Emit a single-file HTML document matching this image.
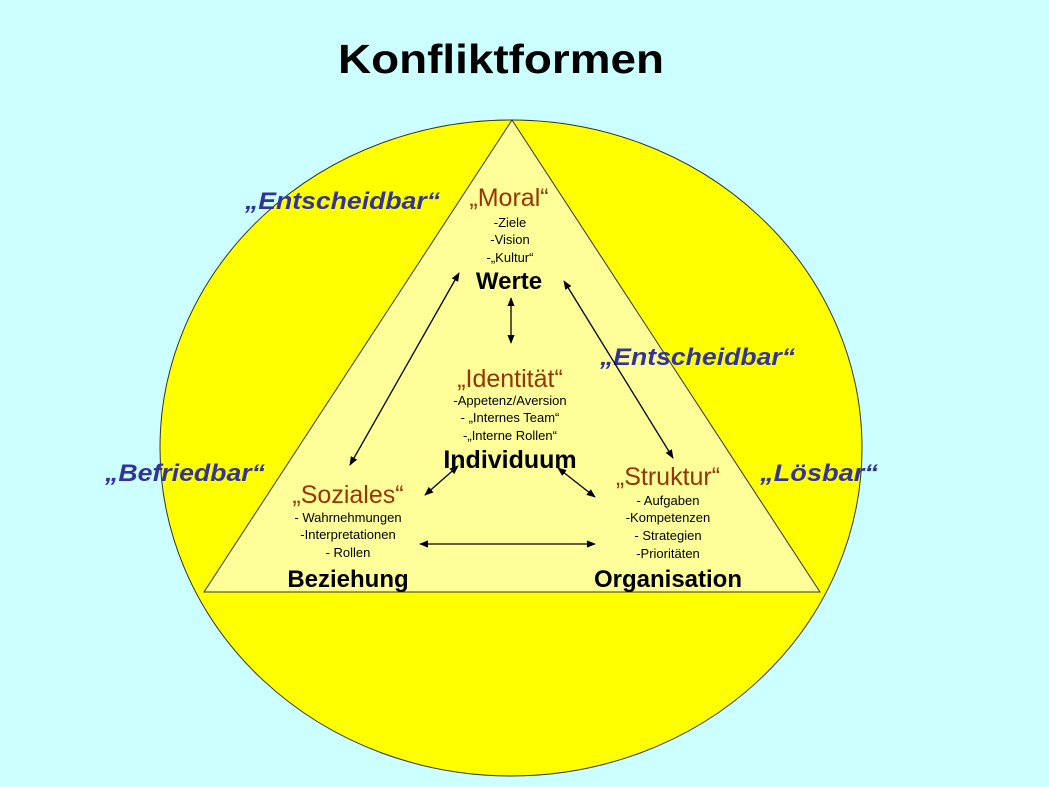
<!DOCTYPE html>
<html><head><meta charset="utf-8"><style>
html,body{margin:0;padding:0;background:#ccffff;}
svg{display:block;}
text{font-family:"Liberation Sans",Arial,sans-serif;}
</style></head><body>
<svg width="1049" height="787" viewBox="0 0 1049 787" xmlns="http://www.w3.org/2000/svg">
<defs>
<marker id="a" viewBox="0 0 10 10" refX="9" refY="5" markerWidth="7" markerHeight="7" orient="auto-start-reverse">
<path d="M0,1 L10,5 L0,9 z" fill="#000"/></marker>
</defs>
<rect width="1049" height="787" fill="#ccffff"/>
<text x="338" y="73" font-size="41" font-weight="bold" textLength="326" lengthAdjust="spacingAndGlyphs">Konfliktformen</text>
<ellipse cx="511" cy="448" rx="351" ry="328" fill="#ffff00" stroke="#333" stroke-width="1"/>
<polygon points="512,120 204,592 820,592" fill="#ffff99" stroke="#333" stroke-width="1"/>
<g fill="#333399" font-weight="bold" font-style="italic" font-size="24">
<text x="245" y="209" textLength="195" lengthAdjust="spacingAndGlyphs">„Entscheidbar“</text>
<text x="600" y="365" textLength="195" lengthAdjust="spacingAndGlyphs">„Entscheidbar“</text>
<text x="105" y="481" textLength="160" lengthAdjust="spacingAndGlyphs">„Befriedbar“</text>
<text x="760" y="481" textLength="118" lengthAdjust="spacingAndGlyphs">„Lösbar“</text>
</g>
<g text-anchor="middle">
<text x="509" y="206" font-size="25" fill="#993300">„Moral“</text>
<text x="510" y="227" font-size="13">-Ziele</text>
<text x="510" y="244" font-size="13">-Vision</text>
<text x="510" y="262" font-size="13">-„Kultur“</text>
<text x="509" y="289" font-size="24" font-weight="bold">Werte</text>
<text x="510" y="387" font-size="25" fill="#993300">„Identität“</text>
<text x="510" y="405" font-size="13">-Appetenz/Aversion</text>
<text x="510" y="422" font-size="13">- „Internes Team“</text>
<text x="510" y="440" font-size="13">-„Interne Rollen“</text>
<text x="510" y="468" font-size="25" font-weight="bold">Individuum</text>
<text x="348" y="503" font-size="25" fill="#993300">„Soziales“</text>
<text x="348" y="522" font-size="13">- Wahrnehmungen</text>
<text x="348" y="539" font-size="13">-Interpretationen</text>
<text x="348" y="557" font-size="13">- Rollen</text>
<text x="348" y="587" font-size="24" font-weight="bold">Beziehung</text>
<text x="668" y="485" font-size="25" fill="#993300">„Struktur“</text>
<text x="668" y="505" font-size="13">- Aufgaben</text>
<text x="668" y="522" font-size="13">-Kompetenzen</text>
<text x="668" y="540" font-size="13">- Strategien</text>
<text x="668" y="558" font-size="13">-Prioritäten</text>
<text x="668" y="587" font-size="24" font-weight="bold">Organisation</text>
</g>
<g stroke="#000" stroke-width="1.3" fill="none" marker-start="url(#a)" marker-end="url(#a)">
<line x1="511" y1="298" x2="511" y2="343"/>
<line x1="459" y1="273" x2="350" y2="465"/>
<line x1="564" y1="281" x2="673" y2="458"/>
<line x1="458" y1="466" x2="425" y2="495"/>
<line x1="558" y1="468" x2="595" y2="497"/>
<line x1="420" y1="544" x2="595" y2="544"/>
</g>
</svg>
</body></html>
